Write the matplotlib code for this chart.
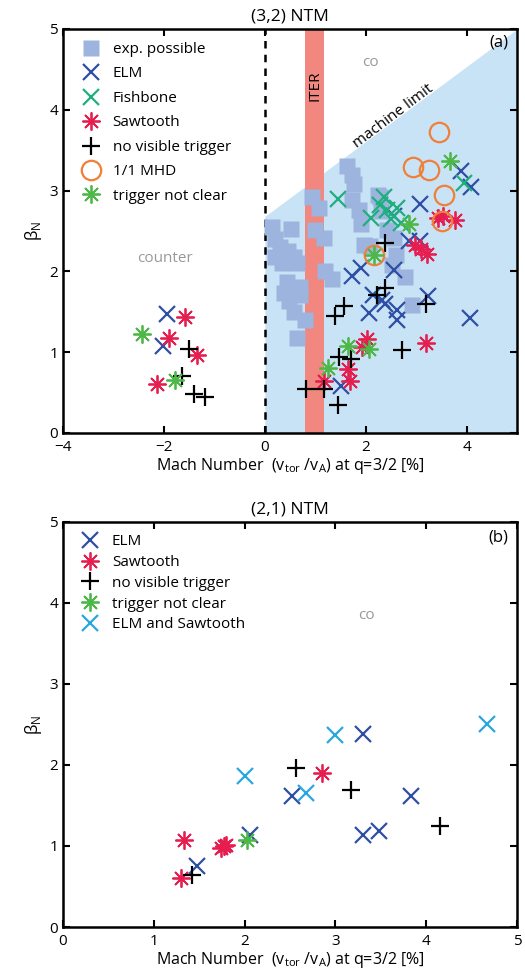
import numpy as np
import matplotlib
matplotlib.use('Agg')
import matplotlib.pyplot as plt

plt.rcParams['font.family'] = ['Open Sans', 'DejaVu Sans']
plt.rcParams['mathtext.fontset'] = 'custom'
plt.rcParams['mathtext.rm'] = 'Open Sans'

# ---- (3,2) NTM data ----
exp_x = [0.14, 0.20, 0.51, 0.20, 0.34, 0.57, 0.63, 0.44, 0.70, 0.37, 0.70, 0.47, 0.57, 0.80,
         0.63, 0.94, 1.07, 1.00, 1.17, 1.20, 1.33, 1.63, 1.73, 1.76, 1.73, 1.86, 1.90, 2.29,
         2.43, 2.09, 1.96, 2.55, 2.52, 2.78, 2.92, 2.25, 2.30, 0.30, 0.45, 2.60]
exp_y = [2.55, 2.40, 2.53, 2.18, 2.10, 2.18, 2.10, 1.87, 1.81, 1.73, 1.71, 1.63, 1.50, 1.40,
         1.17, 2.92, 2.78, 2.51, 2.41, 2.00, 1.91, 3.30, 3.19, 3.08, 2.88, 2.76, 2.59, 2.92,
         2.51, 2.31, 2.33, 2.41, 2.08, 1.93, 1.58, 2.95, 2.75, 2.30, 2.25, 2.20]

elm_x = [-1.93, -2.01, 1.51, 1.73, 1.90, 2.55, 2.15, 2.39, 2.07, 2.62, 2.62, 3.24, 4.06,
         3.08, 2.85, 3.07, 3.89, 4.08, 2.55, 2.33]
elm_y = [1.47, 1.08, 0.58, 1.94, 2.04, 2.02, 1.71, 1.60, 1.49, 1.52, 1.40, 1.69, 1.42,
         2.84, 2.37, 2.37, 3.24, 3.04, 2.68, 1.65]

fish_x = [1.45, 2.36, 2.29, 2.10, 2.43, 2.62, 3.94, 2.50, 2.70]
fish_y = [2.89, 2.92, 2.82, 2.66, 2.76, 2.78, 3.09, 2.65, 2.60]

saw_x = [-1.58, -1.89, -1.34, -2.14, 2.03, 1.92, 1.65, 1.68, 1.17, 3.19, 3.44, 3.77, 3.54,
         2.98, 3.21, 3.10]
saw_y = [1.44, 1.17, 0.97, 0.60, 1.16, 1.07, 0.79, 0.64, 0.64, 1.11, 2.66, 2.64, 2.68,
         2.33, 2.22, 2.28]

none_x = [-1.51, -1.65, -1.40, -1.18, 1.57, 1.39, 1.47, 1.70, 0.82, 1.17, 1.45, 2.23, 2.39,
          3.19, 2.72, 2.39]
none_y = [1.04, 0.71, 0.48, 0.44, 1.57, 1.45, 0.94, 0.91, 0.55, 0.55, 0.35, 1.71, 1.79,
          1.60, 1.03, 2.35]

mhd_x = [3.46, 2.93, 3.26, 3.55, 3.51, 2.16]
mhd_y = [3.72, 3.29, 3.26, 2.94, 2.62, 2.20]

unclear_x = [-2.44, -1.78, 1.65, 2.06, 1.26, 2.16, 3.66, 2.85]
unclear_y = [1.23, 0.65, 1.08, 1.04, 0.81, 2.20, 3.36, 2.59]

# machine limit line and ITER band
limit_x = [0, 5]
limit_y = [2.68, 5.0]
iter_band = [0.80, 1.18]

# ---- (2,1) NTM data ----
elm21_x = [3.30, 2.52, 3.83, 3.30, 3.48, 2.06, 1.47]
elm21_y = [2.38, 1.62, 1.62, 1.14, 1.18, 1.14, 0.75]
saw21_x = [2.85, 1.33, 1.77, 1.80, 1.74, 1.30]
saw21_y = [1.90, 1.07, 1.00, 1.01, 0.98, 0.60]
none21_x = [2.57, 3.17, 4.15, 1.42]
none21_y = [1.96, 1.69, 1.25, 0.64]
unclear21_x = [2.03]
unclear21_y = [1.07]
both21_x = [3.00, 4.67, 2.00, 2.68]
both21_y = [2.37, 2.50, 1.86, 1.66]

c_elm = '#2E4FA3'
c_fish = '#1FAF7E'
c_saw = '#E61E50'
c_mhd = '#F08038'
c_unclear = '#4DB848'
c_both = '#2AA6E0'
c_exp = '#9DB4DE'
c_shade = '#C9E3F6'
c_iter = '#F2877F'

ast = (8, 2, 0)
ms = 11
ms_ast = 13
mew = 1.6

fig = plt.figure(figsize=(5.25, 9.76), dpi=100)
ax1 = fig.add_axes([0.12, 0.5564, 0.865, 0.4139])
ax2 = fig.add_axes([0.12, 0.0502, 0.865, 0.4150])

# top panel
ax1.fill_between(limit_x, 0, limit_y, color=c_shade, lw=0, zorder=0)
ax1.axvspan(iter_band[0], iter_band[1], color=c_iter, lw=0, zorder=1)
ax1.axvline(0, color='k', ls=(0, (3, 2.5)), lw=1.8, zorder=1)
ax1.plot(exp_x, exp_y, 's', color=c_exp, ms=11, mec='none', zorder=2, label='exp. possible')
ax1.plot(elm_x, elm_y, 'x', color=c_elm, ms=ms, mew=mew, zorder=3, label='ELM')
ax1.plot(fish_x, fish_y, 'x', color=c_fish, ms=ms, mew=mew, zorder=3, label='Fishbone')
ax1.plot(saw_x, saw_y, marker=ast, ls='none', color=c_saw, ms=ms_ast, mew=1.3, zorder=3,
         label='Sawtooth')
ax1.plot(none_x, none_y, '+', color='k', ms=13, mew=mew, zorder=3, label='no visible trigger')
ax1.plot(mhd_x, mhd_y, 'o', mfc='none', mec=c_mhd, ms=14, mew=mew, zorder=3, label='1/1 MHD')
ax1.plot(unclear_x, unclear_y, marker=ast, ls='none', color=c_unclear, ms=ms_ast, mew=1.3,
         zorder=4, label='trigger not clear')

ax1.text(0.99, 4.3, 'ITER', rotation=90, ha='center', va='center', fontsize=11, zorder=5)
ax1.text(2.55, 3.92, 'machine limit', rotation=37, ha='center', va='center', fontsize=11, zorder=5)
ax1.text(2.09, 4.58, 'co', color='#999999', ha='center', va='center', fontsize=11)
ax1.text(-1.98, 2.16, 'counter', color='#999999', ha='center', va='center', fontsize=11)
ax1.text(4.63, 4.83, '(a)', ha='center', va='center', fontsize=12)
ax1.set_xlim(-4, 5)
ax1.set_ylim(0, 5)
ax1.set_xticks([-4, -2, 0, 2, 4])
ax1.set_title('(3,2) NTM', fontsize=12.5, pad=6)
ax1.legend(loc='upper left', frameon=False, fontsize=11, handletextpad=0.4,
           labelspacing=0.62, borderaxespad=0.3, borderpad=0.55)

# bottom panel
ax2.plot(elm21_x, elm21_y, 'x', color=c_elm, ms=ms, mew=mew, label='ELM')
ax2.plot(saw21_x, saw21_y, marker=ast, ls='none', color=c_saw, ms=ms_ast, mew=1.3,
         label='Sawtooth')
ax2.plot(none21_x, none21_y, '+', color='k', ms=13, mew=mew, label='no visible trigger')
ax2.plot(unclear21_x, unclear21_y, marker=ast, ls='none', color=c_unclear, ms=ms_ast, mew=1.3,
         label='trigger not clear')
ax2.plot(both21_x, both21_y, 'x', color=c_both, ms=ms, mew=mew, label='ELM and Sawtooth')
ax2.text(3.34, 3.84, 'co', color='#999999', ha='center', va='center', fontsize=11)
ax2.text(4.79, 4.81, '(b)', ha='center', va='center', fontsize=12)
ax2.set_xlim(0, 5)
ax2.set_ylim(0, 5)
ax2.set_title('(2,1) NTM', fontsize=12.5, pad=6)
ax2.legend(loc='upper left', frameon=False, fontsize=11, handletextpad=0.4,
           labelspacing=0.38, borderaxespad=0.3, borderpad=0.5)

xlab = 'Mach Number  (v$_\\mathrm{tor}$ /v$_\\mathrm{A}$) at q=3/2 [%]'
for ax in (ax1, ax2):
    ax.set_yticks([0, 1, 2, 3, 4, 5])
    ax.set_xlabel(xlab, fontsize=11.5, labelpad=1)
    ax.set_ylabel('β$_\\mathrm{N}$', fontsize=12, labelpad=4)
    ax.tick_params(direction='in', top=True, right=True, length=5, width=1.5, labelsize=11)
    ax.tick_params(axis='x', pad=5)
    for s in ax.spines.values():
        s.set_linewidth(1.8)
        s.set_zorder(6)

fig.savefig('out.png', dpi=100)
